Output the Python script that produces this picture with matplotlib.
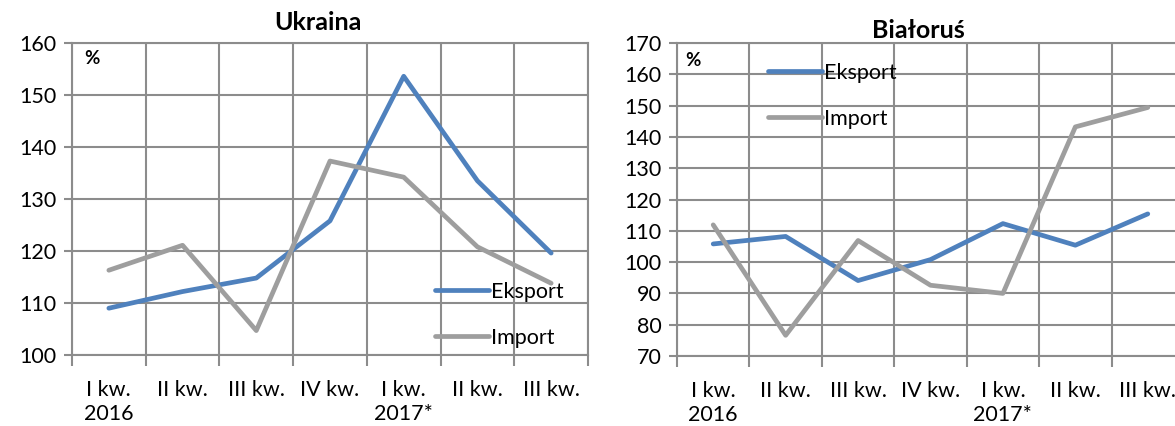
import matplotlib
matplotlib.use("Agg")
import matplotlib.pyplot as plt
import numpy as np

plt.rcParams['font.family'] = ['Lato', 'DejaVu Sans']

quarters = ["I kw.\n2016", "II kw.", "III kw.", "IV kw.", "I kw.\n2017*", "II kw.", "III kw."]

ua_export = [109.0, 112.2, 114.8, 125.8, 153.6, 133.5, 119.6]
ua_import = [116.3, 121.1, 104.7, 137.3, 134.2, 120.8, 113.8]

by_export = [105.8, 108.2, 94.1, 100.8, 112.3, 105.4, 115.4]
by_import = [111.9, 76.6, 106.9, 92.6, 90.0, 143.2, 149.4]

BLUE = '#4f81bd'
GREY = '#9e9e9e'
GRID = '#8c8c8c'
FS = 15.5

fig = plt.figure(figsize=(11.75, 4.26), dpi=100)


def panel(rect, exp, imp, ylim, step, title, title_xy, pct_xy, leg_xy):
    ax = fig.add_axes(rect)
    x = np.arange(len(quarters))
    ax.plot(x, exp, color=BLUE, lw=3.4, label='Eksport', solid_capstyle='round', zorder=3)
    ax.plot(x, imp, color=GREY, lw=3.4, label='Import', solid_capstyle='round', zorder=3)
    ax.set_xlim(-0.5, len(quarters) - 0.5)
    ax.set_ylim(*ylim)
    ax.set_yticks(np.arange(ylim[0], ylim[1] + 1, step))
    ax.set_xticks(x)
    ax.set_xticklabels(quarters, linespacing=1.25)
    ax.set_xticks(np.arange(-0.5, len(quarters)), minor=True)
    ax.tick_params(axis='x', which='major', length=0, pad=18, labelsize=FS)
    ax.tick_params(axis='x', which='minor', length=8, width=1.5, color=GRID)
    ax.tick_params(axis='y', length=6, width=1.5, color=GRID, labelsize=FS, pad=5)
    ax.grid(True, axis='y', which='major', color=GRID, lw=1.5)
    ax.grid(True, axis='x', which='minor', color=GRID, lw=1.5)
    for s in ax.spines.values():
        s.set_color(GRID)
        s.set_linewidth(1.5)
    ax.set_axisbelow(True)
    fig.text(title_xy[0], title_xy[1], title, ha='center', va='center',
             fontsize=18, fontweight='bold')
    fig.text(pct_xy[0], pct_xy[1], '%', ha='center', va='center',
             fontsize=13.5, fontweight='bold')
    ax.legend(loc='upper left', bbox_to_anchor=leg_xy, bbox_transform=fig.transFigure,
              frameon=False, fontsize=FS, handlelength=2.5, handletextpad=0.12,
              labelspacing=1.2, borderpad=0, borderaxespad=0)
    for t in ax.get_xticklabels():
        t.set_multialignment('center')
    return ax


panel([72 / 1175, 1 - 355 / 426, 516 / 1175, 312 / 426],
      ua_export, ua_import, (100, 160), 10, 'Ukraina',
      (318 / 1175, 1 - 22 / 426), (92 / 1175, 1 - 58 / 426),
      (435 / 1175, 1 - 282 / 426))

panel([677 / 1175, 1 - 356 / 426, 507 / 1175, 313 / 426],
      by_export, by_import, (70, 170), 10, 'Białoruś',
      (918 / 1175, 1 - 30 / 426), (693 / 1175, 1 - 60 / 426),
      (768 / 1175, 1 - 63 / 426))

fig.savefig('out.png', dpi=100)
